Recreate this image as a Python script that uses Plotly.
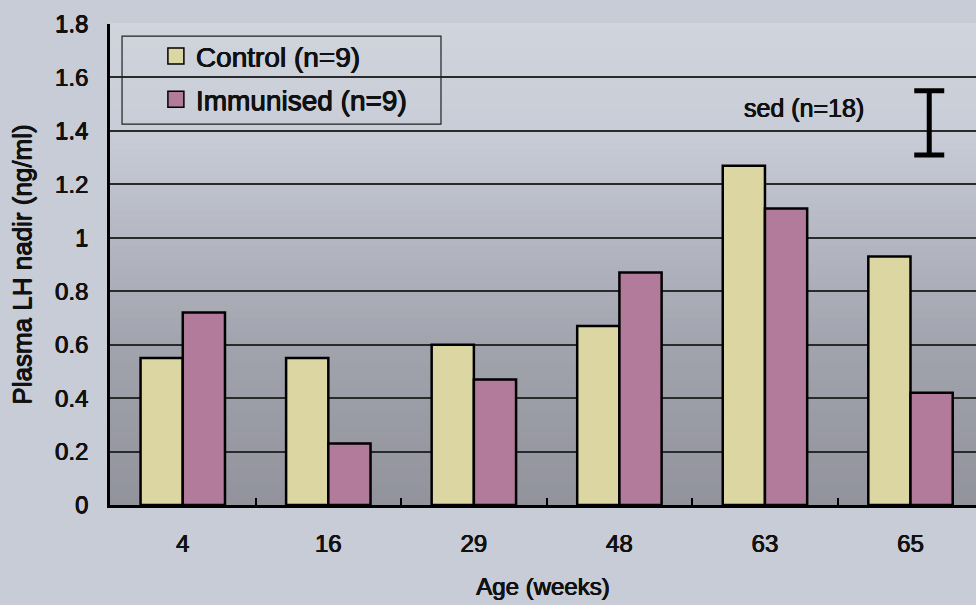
import plotly.graph_objects as go

# Age groups and plasma LH nadir means (ng/ml)
ages = ["4", "16", "29", "48", "63", "65"]
control = [0.55, 0.55, 0.60, 0.67, 1.27, 0.93]
immunised = [0.72, 0.23, 0.47, 0.87, 1.11, 0.42]
series_names = ["Control (n=9)", "Immunised (n=9)"]
series_colors = ["#dcd6a2", "#b27b9b"]
y_ticks = [0, 0.2, 0.4, 0.6, 0.8, 1, 1.2, 1.4, 1.6, 1.8]
y_tick_text = ["0", "0.2", "0.4", "0.6", "0.8", "1", "1.2", "1.4", "1.6", "1.8"]

# Standard error of the difference, shown as a key bar
sed_value = 0.24
sed_centre = 1.43
sed_label = "sed (n=18)"

FONT = "Liberation Sans, Arial, sans-serif"
INK = "#111111"
# slightly heavier strokes for all text
HEAVY = "0.45px 0 0 #111111, -0.45px 0 0 #111111, 0 0.35px 0 #111111"


def txt(size):
    return dict(size=size, family=FONT, color=INK, shadow=HEAVY)


fig = go.Figure()

for name, vals, col in zip(series_names, [control, immunised], series_colors):
    fig.add_trace(go.Bar(
        x=ages, y=vals, name=name, showlegend=False,
        marker=dict(color=col, line=dict(color="black", width=2.5)),
    ))

# legend entries drawn as square swatches
for i, (name, col) in enumerate(zip(series_names, series_colors)):
    fig.add_trace(go.Scatter(
        x=[None], y=[None], mode="markers", name=name,
        legendgroup=f"g{i}",
        marker=dict(symbol="square", size=16, color=col,
                    line=dict(color="black", width=1.5)),
    ))

# sed key bar on an overlay axis spanning the plot width
fig.add_trace(go.Scatter(
    x=[0.946], y=[sed_centre], xaxis="x2", mode="markers",
    showlegend=False, hoverinfo="skip",
    marker=dict(size=1, color="rgba(0,0,0,0)"),
    error_y=dict(type="data", array=[sed_value / 2], symmetric=True,
                 color="black", thickness=5, width=15),
))

# vertical shading of the plot area, light at the top, darker towards the base
stops = [
    (0.00, (208, 212, 221)),
    (0.22, (201, 205, 215)),
    (0.44, (181, 184, 195)),
    (0.67, (161, 163, 173)),
    (1.00, (146, 147, 156)),
]


def shade(t):
    for (t0, c0), (t1, c1) in zip(stops[:-1], stops[1:]):
        if t0 <= t <= t1:
            f = (t - t0) / (t1 - t0)
            return tuple(round(a + (b - a) * f) for a, b in zip(c0, c1))
    return stops[-1][1]


shapes = []
n = 80
for k in range(n):
    top = 1 - k / n
    bot = 1 - (k + 1) / n
    r, g, b = shade((k + 0.5) / n)
    shapes.append(dict(
        type="rect", xref="x domain", yref="y domain",
        x0=0, x1=1, y0=bot, y1=top + 0.002,
        fillcolor=f"rgb({r},{g},{b})", line=dict(width=0), layer="below",
    ))

# legend frame
shapes.append(dict(
    type="rect", xref="paper", yref="paper",
    x0=0.0139, x1=0.3822, y0=0.792, y1=0.975,
    line=dict(color="#222222", width=1.2), fillcolor="rgba(0,0,0,0)",
    layer="above",
))

fig.update_layout(
    width=976, height=605,
    margin=dict(l=110, r=0, t=24, b=100),
    paper_bgcolor="#c7ccd6",
    plot_bgcolor="#c7ccd6",
    barmode="group",
    bargap=0.42,
    bargroupgap=0,
    font=txt(24),
    shapes=shapes,
    showlegend=True,
    legend=dict(
        x=0.053, y=0.985, xanchor="left", yanchor="top",
        bgcolor="rgba(0,0,0,0)", borderwidth=0,
        font=txt(28),
        tracegroupgap=4, itemsizing="trace",
    ),
    xaxis=dict(
        type="category", range=[-0.5, 5.45],
        showgrid=False, zeroline=False,
        showline=True, linecolor="black", linewidth=2.5,
        ticks="inside", tickson="boundaries", ticklen=7,
        tickwidth=2, tickcolor="black",
        tickfont=txt(24),
        ticklabelstandoff=15,
        title=dict(text="Age (weeks)", font=txt(24), standoff=23),
    ),
    xaxis2=dict(overlaying="x", range=[0, 1], visible=False),
    yaxis=dict(
        range=[0, 1.8], tickvals=y_ticks, ticktext=y_tick_text,
        showgrid=True, gridcolor="#2a2a2a", gridwidth=1.5,
        zeroline=False, showline=True, linecolor="black", linewidth=2.5,
        ticks="", tickfont=txt(24),
        ticklabelstandoff=14,
        title=dict(text="Plasma LH nadir (ng/ml)", font=txt(26), standoff=16),
    ),
    annotations=[dict(
        text=sed_label, xref="paper", yref="paper",
        x=(804 - 110) / 866, y=1 - (108 - 24) / 481,
        xanchor="center", yanchor="middle", showarrow=False,
        font=txt(25),
    )],
)

fig.write_html("out.html")
